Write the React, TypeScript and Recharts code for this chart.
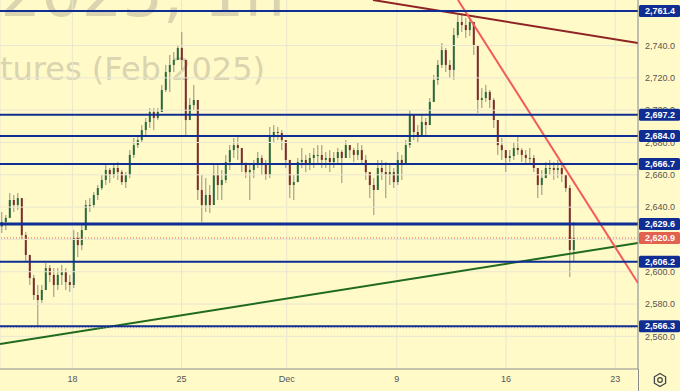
import React from 'react';
import { ComposedChart, Bar, XAxis, YAxis, CartesianGrid, ReferenceLine } from 'recharts';

// GC Feb 2025, 1h — in buckets of ~4 px (one entry per bucket)
const highs = [
  2637.0, 2635.1, 2648.7, 2647.5, 2648.7, 2644.4, 2624.6, 2610.4, 2598.0, 2591.8, 2591.8, 2605.4,
  2604.2, 2602.3, 2602.3, 2604.2, 2602.3, 2598.0, 2625.8, 2624.6, 2628.9, 2644.4, 2645.6, 2649.4,
  2653.7, 2659.9, 2667.3, 2664.2, 2667.3, 2667.9, 2663.0, 2661.7, 2675.3, 2682.8, 2684.6, 2690.8,
  2695.2, 2701.3, 2701.3, 2701.3, 2715.6, 2728.0, 2734.2, 2736.0, 2740.3, 2748.4, 2731.1, 2707.5,
  2715.6, 2706.3, 2659.9, 2658.0, 2653.7, 2667.3, 2666.1, 2663.0, 2672.3, 2678.4, 2682.8, 2684.0,
  2675.3, 2667.9, 2666.1, 2669.2, 2674.1, 2672.3, 2669.2, 2689.6, 2690.8, 2689.6, 2687.7, 2681.5,
  2666.1, 2659.9, 2670.4, 2676.6, 2672.3, 2673.5, 2676.6, 2678.4, 2678.4, 2674.1, 2675.3, 2674.1,
  2676.6, 2675.3, 2681.5, 2678.4, 2676.6, 2679.7, 2678.4, 2672.3, 2661.7, 2658.0, 2669.2, 2669.2,
  2667.9, 2666.1, 2664.2, 2674.1, 2672.3, 2681.5, 2700.1, 2697.0, 2690.8, 2697.0, 2695.2, 2707.5,
  2721.8, 2731.1, 2741.6, 2738.5, 2731.1, 2750.9, 2758.9, 2760.2, 2757.1, 2757.1, 2752.7, 2740.3,
  2713.7, 2715.6, 2712.5, 2707.5, 2693.9, 2682.8, 2675.3, 2675.3, 2679.7, 2684.6, 2676.6, 2675.3,
  2676.6, 2672.3, 2664.2, 2663.0, 2667.9, 2669.2, 2667.9, 2669.2, 2667.9, 2658.0, 2653.7, 2630.8,
];
const lows = [
  2624.0, 2625.8, 2635.1, 2637.0, 2638.2, 2619.6, 2606.0, 2591.8, 2582.5, 2566.4, 2580.6, 2588.7,
  2593.6, 2584.4, 2588.7, 2591.8, 2588.7, 2587.5, 2589.9, 2609.1, 2613.4, 2627.1, 2637.0, 2639.4,
  2644.4, 2650.6, 2653.7, 2654.9, 2658.0, 2656.8, 2653.7, 2651.8, 2658.0, 2670.4, 2676.6, 2680.3,
  2684.6, 2689.0, 2687.7, 2693.9, 2698.9, 2711.3, 2711.3, 2723.6, 2731.1, 2724.9, 2684.6, 2693.9,
  2700.1, 2644.4, 2630.8, 2637.0, 2636.4, 2641.3, 2644.4, 2644.4, 2654.9, 2663.0, 2670.4, 2669.2,
  2661.7, 2658.0, 2644.4, 2658.0, 2664.2, 2659.9, 2656.8, 2658.0, 2680.3, 2681.5, 2675.3, 2664.2,
  2645.6, 2644.4, 2655.5, 2664.2, 2661.7, 2663.0, 2664.2, 2666.1, 2664.2, 2664.2, 2661.7, 2664.2,
  2666.1, 2654.9, 2670.4, 2670.4, 2667.9, 2669.2, 2666.1, 2656.8, 2645.6, 2635.1, 2650.6, 2656.8,
  2645.6, 2653.7, 2651.8, 2653.7, 2656.8, 2667.9, 2676.6, 2681.5, 2680.3, 2684.6, 2683.4, 2690.8,
  2705.1, 2715.6, 2726.1, 2723.6, 2719.9, 2718.7, 2744.7, 2748.4, 2744.7, 2745.9, 2734.2, 2698.3,
  2701.3, 2705.1, 2701.3, 2689.0, 2672.3, 2669.2, 2661.7, 2667.9, 2669.2, 2672.3, 2667.9, 2667.3,
  2666.1, 2661.7, 2645.6, 2647.5, 2658.0, 2659.9, 2656.8, 2658.0, 2655.5, 2649.4, 2596.7, 2606.0,
];
const closes = [
  2630.8, 2633.3, 2644.4, 2641.3, 2645.6, 2622.7, 2610.4, 2596.1, 2585.6, 2582.5, 2588.7, 2602.3,
  2598.0, 2591.8, 2598.0, 2599.8, 2593.6, 2591.8, 2620.9, 2616.5, 2625.8, 2641.3, 2641.3, 2647.5,
  2651.8, 2656.8, 2663.0, 2659.9, 2664.2, 2661.7, 2655.5, 2659.9, 2672.3, 2678.4, 2681.5, 2687.7,
  2692.7, 2698.9, 2695.2, 2698.9, 2712.5, 2723.6, 2728.0, 2731.1, 2738.5, 2731.1, 2693.9, 2703.2,
  2706.3, 2650.6, 2641.3, 2647.5, 2641.3, 2659.9, 2653.7, 2656.8, 2667.9, 2675.3, 2678.4, 2676.6,
  2666.1, 2661.7, 2663.0, 2666.1, 2670.4, 2666.1, 2659.9, 2684.6, 2686.5, 2685.9, 2681.5, 2669.2,
  2653.7, 2655.5, 2667.9, 2669.2, 2666.1, 2670.4, 2672.3, 2672.3, 2669.2, 2670.4, 2667.9, 2670.4,
  2674.1, 2670.4, 2678.4, 2675.3, 2672.3, 2675.3, 2669.2, 2661.7, 2653.7, 2650.6, 2664.2, 2661.7,
  2659.9, 2661.7, 2655.5, 2669.2, 2666.1, 2678.4, 2697.0, 2686.5, 2684.6, 2692.7, 2690.8, 2705.1,
  2718.7, 2728.0, 2737.2, 2728.0, 2724.9, 2746.5, 2754.6, 2752.7, 2749.6, 2754.6, 2740.3, 2706.3,
  2707.5, 2711.3, 2706.3, 2693.9, 2678.4, 2675.3, 2670.4, 2671.6, 2676.6, 2675.3, 2672.3, 2670.4,
  2670.4, 2664.2, 2653.7, 2658.0, 2664.2, 2664.2, 2663.0, 2664.2, 2659.9, 2651.8, 2613.4, 2620.9,
];
const firstOpen = 2628.0;

// horizontal levels drawn on the chart
const levels = [2761.4, 2697.2, 2684.0, 2666.7, 2629.6, 2606.2, 2566.3];
const heavyLevel = 2629.6;
const lastPrice = 2620.9;
const dottedLevel = 2565.3;

const priceTicks = [2560, 2580, 2600, 2620, 2640, 2660, 2680, 2700, 2720, 2740];
// bar-index positions of the session starts shown on the time axis
const dateTicks = [17.6, 44.9, 71.2, 98.7, 126, 153.3];
const dateLabels = ['18', '25', 'Dec', '9', '16', '23'];

// trend lines (bar index, price)
const trendDown = [{ x: 92.75, y: 2768.2 }, { x: 159, y: 2741.6 }];
const trendSteep = [{ x: 114, y: 2768.2 }, { x: 159, y: 2593.0 }];
const trendUp = [{ x: -0.5, y: 2555.3 }, { x: 159, y: 2617.8 }];

const W = 680;
const H = 391;
const BG = '#fffac8';
const BLUE = '#0f2d92';
const GRID = '#e9e6d2';
const FONT = '"Liberation Sans", Arial, sans-serif';

const candles = closes.map((c, i) => ({
  i,
  open: i === 0 ? firstOpen : closes[i - 1],
  high: highs[i],
  low: lows[i],
  close: c,
}));

const fmt = (v: number) =>
  v.toLocaleString('en-US', { minimumFractionDigits: 1, maximumFractionDigits: 1 });

const Candle = (props: any) => {
  const { x, y, width, height, payload } = props;
  if (!payload || !height) return null;
  const { open, close, high, low } = payload;
  const k = height / (high - low);
  const py = (p: number) => y + (high - p) * k;
  const cx = x + width / 2;
  const top = py(Math.max(open, close));
  const bot = py(Math.min(open, close));
  const up = close >= open;
  return (
    <g>
      <line x1={cx} x2={cx} y1={Math.min(y, top)} y2={Math.max(y + height, bot)} stroke="#8f8f86" strokeWidth={1} />
      <rect x={cx - 1} y={top} width={2} height={Math.max(1, bot - top)} fill={up ? '#2c6a3c' : '#7c2c2a'} />
    </g>
  );
};

// price-scale text for a grid line
const TickText = ({ viewBox, value }: any) => {
  if (!viewBox) return null;
  const { x, y, width } = viewBox;
  return (
    <text x={x + width + 7} y={y + 3.3} fill="#555" fontSize={9} fontFamily={FONT}>
      {fmt(value)}
    </text>
  );
};

// coloured price tag on the scale
const Tag = ({ viewBox, value, bg }: any) => {
  if (!viewBox) return null;
  const { x, y, width } = viewBox;
  return (
    <g>
      <rect x={x + width + 1} y={y - 6} width={41} height={12} rx={1.5} fill={bg} />
      <text x={x + width + 7} y={y + 3.3} fill="#fff" fontSize={9} fontWeight="bold" fontFamily={FONT}>
        {fmt(value)}
      </text>
    </g>
  );
};

const App = () => {
  return (
    <div style={{ position: 'absolute', left: 0, top: 0, width: W, height: H, background: BG, overflow: 'hidden' }}>
      <svg style={{ position: 'absolute', left: 0, top: 0 }} width={W} height={H}>
        <text x={285} y={16} textAnchor="end" fontSize={64} fontFamily='"DejaVu Sans", sans-serif' fill="#dad4af">
          GCG2025, 1h
        </text>
        <text x={265} y={80} textAnchor="end" fontSize={32} fontFamily='"DejaVu Sans", sans-serif' fill="#dad4af">
          Gold Futures (Feb 2025)
        </text>
      </svg>
      <div style={{ position: 'absolute', left: 0, top: 0 }}>
        <ComposedChart width={W} height={H} data={candles} margin={{ top: 0, right: 0, bottom: 0, left: 0 }}>
          <CartesianGrid stroke={GRID} strokeWidth={1} horizontal={false} />
          <XAxis
            dataKey="i"
            type="number"
            domain={[-0.5, 159]}
            allowDataOverflow
            ticks={dateTicks}
            interval={0}
            tickFormatter={(v: number) => dateLabels[dateTicks.indexOf(v)] ?? ''}
            height={22}
            tickSize={0}
            tickMargin={7}
            tick={{ fill: '#555', fontSize: 9, fontFamily: FONT }}
            axisLine={{ stroke: '#8c8c8c' }}
          />
          <YAxis
            orientation="right"
            type="number"
            domain={[2539.8, 2768.2]}
            allowDataOverflow
            ticks={priceTicks}
            tick={false}
            width={42}
            tickSize={0}
            axisLine={{ stroke: '#8c8c8c' }}
          />
          {priceTicks.map((t) => (
            <ReferenceLine
              key={'t' + t}
              y={t}
              stroke={GRID}
              strokeWidth={1}
              label={(p: any) => <TickText viewBox={p.viewBox} value={t} />}
            />
          ))}
          <Bar dataKey={(d: any) => [d.low, d.high]} barSize={4} shape={Candle} isAnimationActive={false} />
          <ReferenceLine segment={trendUp} stroke="#1f6a1f" strokeWidth={2} ifOverflow="hidden" />
          <ReferenceLine segment={trendDown} stroke="#8e2424" strokeWidth={2} ifOverflow="hidden" />
          <ReferenceLine segment={trendSteep} stroke="#f25b5b" strokeWidth={2} ifOverflow="hidden" />
          <ReferenceLine y={dottedLevel} stroke="#a8a8a8" strokeDasharray="1 2" />
          <ReferenceLine
            y={lastPrice}
            stroke="#e8604c"
            strokeDasharray="1 2"
            label={(p: any) => <Tag viewBox={p.viewBox} value={lastPrice} bg="#e3624d" />}
          />
          {levels.map((lv) => (
            <ReferenceLine
              key={lv}
              y={lv}
              stroke={BLUE}
              strokeWidth={lv === heavyLevel ? 3 : 2}
              label={(p: any) => <Tag viewBox={p.viewBox} value={lv} bg={BLUE} />}
            />
          ))}
        </ComposedChart>
      </div>
      <svg style={{ position: 'absolute', left: 0, top: 0, pointerEvents: 'none' }} width={W} height={H}>
        <line x1={638.5} x2={638.5} y1={369} y2={H} stroke="#8c8c8c" />
        <polygon
          points="660,373.5 665.6,376.75 665.6,383.25 660,386.5 654.4,383.25 654.4,376.75"
          fill="none"
          stroke="#444"
          strokeWidth={1.3}
        />
        <circle cx={660} cy={380} r={2.3} fill="none" stroke="#444" strokeWidth={1.2} />
      </svg>
    </div>
  );
};

export default App;
